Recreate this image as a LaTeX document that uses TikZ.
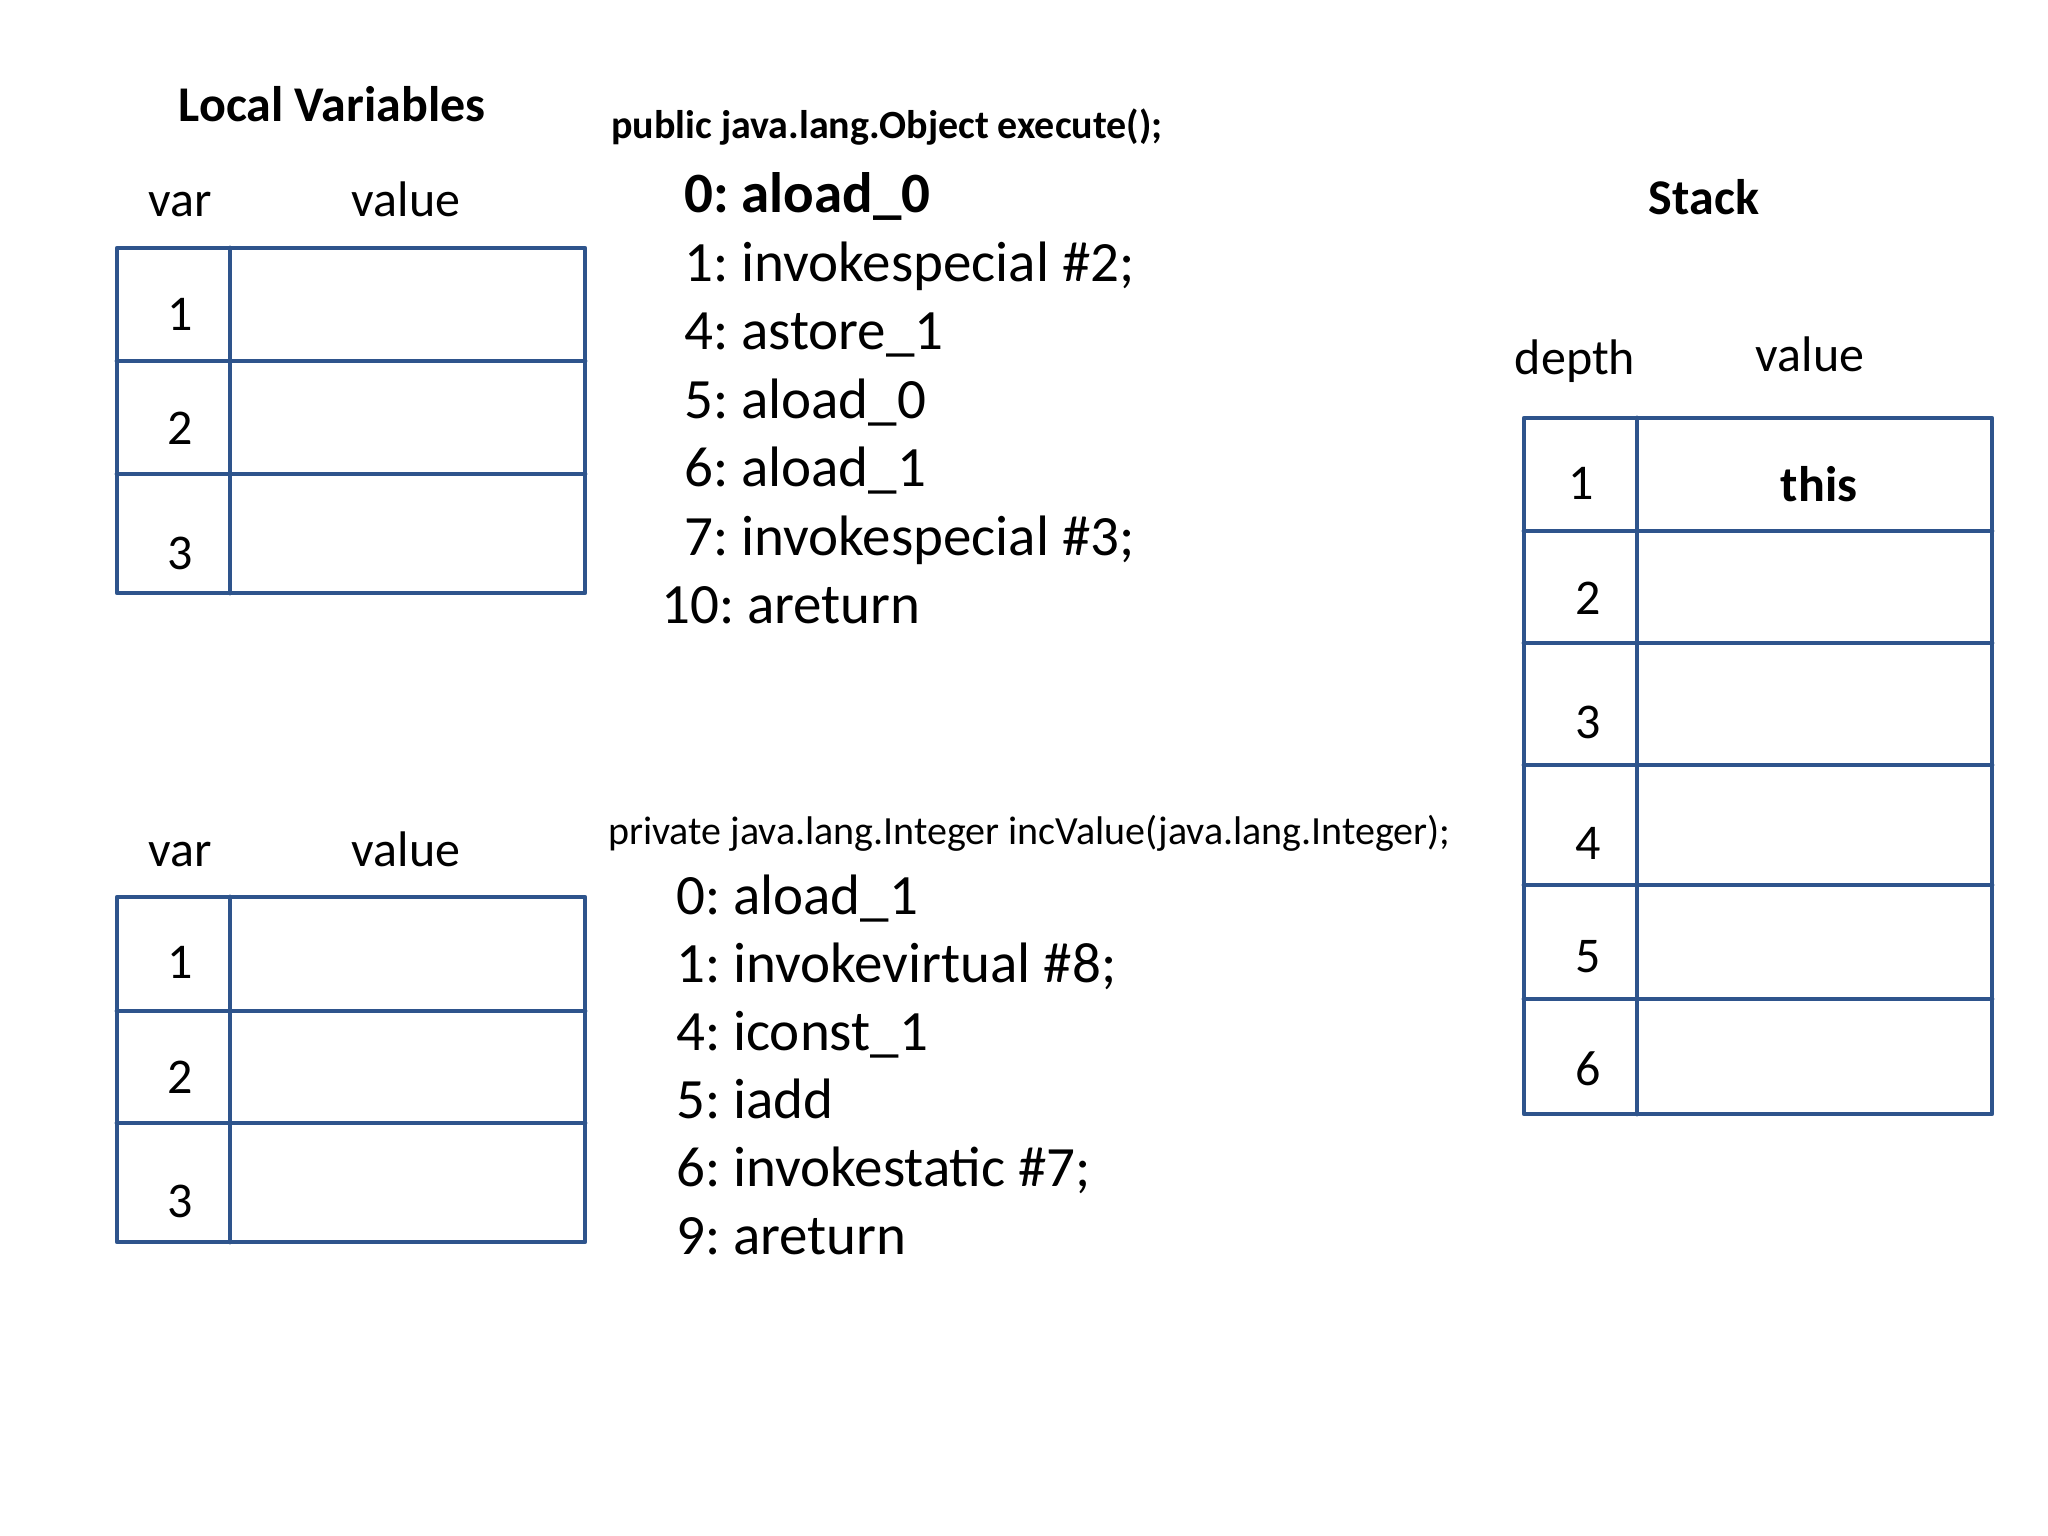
\documentclass[tikz,border=0pt]{standalone}
\usepackage{fontspec}
\setmainfont{Carlito}
\definecolor{gridblue}{HTML}{2E548C}
\frenchspacing
\begin{document}
\begin{tikzpicture}[x=1pt,y=-1pt,
  grid/.style={draw=gridblue,line width=4.8pt,line join=round,line cap=round},
  lbl/.style={inner sep=0pt,anchor=base,font=\fontsize{50}{60}\selectfont},
  blbl/.style={inner sep=0pt,anchor=base,font=\fontsize{50}{60}\selectfont\bfseries},
  code/.style={inner sep=0pt,anchor=base west,font=\fontsize{57}{68}\selectfont},
  hdr/.style={inner sep=0pt,anchor=base west,font=\fontsize{40}{48}\selectfont}]
\useasboundingbox[fill=white] (0,0) rectangle (2048,1536);

% ---------- Local variables (top) ----------
\node[blbl] (lvtitle) at (332,122) {Local Variables};
\node[lbl] (tvar) at (180,216) {var};
\node[lbl] (tval) at (406,216) {value};
\draw[grid] (117,248) rectangle (585,593);
\draw[grid] (230,248) -- (230,593);
\draw[grid] (117,361) -- (585,361);
\draw[grid] (117,474) -- (585,474);
\node[lbl] (t1) at (180,330) {1};
\node[lbl] (t2) at (180,444) {2};
\node[lbl] (t3) at (180,569) {3};

% ---------- Local variables (bottom) ----------
\node[lbl] (bvar) at (180,866) {var};
\node[lbl] (bval) at (406,866) {value};
\draw[grid] (117,897) rectangle (585,1242);
\draw[grid] (230,897) -- (230,1242);
\draw[grid] (117,1011) -- (585,1011);
\draw[grid] (117,1123) -- (585,1123);
\node[lbl] (b1) at (180,978) {1};
\node[lbl] (b2) at (180,1093) {2};
\node[lbl] (b3) at (180,1217) {3};

% ---------- execute() bytecode ----------
\node[hdr,font=\fontsize{40}{48}\selectfont\bfseries] (exhdr) at (611,139) {public java.lang.Object execute();};
\node[code,font=\fontsize{57}{68}\selectfont\bfseries] (e0) at (684,212) {0: aload\_0};
\node[code] (e1) at (684,281) {1: invokespecial \#2;};
\node[code] (e4) at (684,349) {4: astore\_1};
\node[code] (e5) at (684,418) {5: aload\_0};
\node[code] (e6) at (684,486) {6: aload\_1};
\node[code] (e7) at (684,555) {7: invokespecial \#3;};
\node[code] (e10) at (661,623) {10: areturn};

% ---------- incValue() bytecode ----------
\node[hdr] (inchdr) at (608,844) {private java.lang.Integer incValue(java.lang.Integer);};
\node[code] (i0) at (676,914) {0: aload\_1};
\node[code] (i1) at (676,982) {1: invokevirtual \#8;};
\node[code] (i4) at (676,1050) {4: iconst\_1};
\node[code] (i5) at (676,1118) {5: iadd};
\node[code] (i6) at (676,1186) {6: invokestatic \#7;};
\node[code] (i9) at (676,1254) {9: areturn};

% ---------- Stack ----------
\node[blbl] (sttitle) at (1704,214) {Stack};
\node[lbl] (sdepth) at (1575,374) {depth};
\node[lbl] (sval) at (1810,371) {value};
\draw[grid] (1524,418) rectangle (1992,1114);
\draw[grid] (1637,418) -- (1637,1114);
\draw[grid] (1524,531) -- (1992,531);
\draw[grid] (1524,643) -- (1992,643);
\draw[grid] (1524,765) -- (1992,765);
\draw[grid] (1524,885) -- (1992,885);
\draw[grid] (1524,999) -- (1992,999);
\node[lbl] (s1) at (1581,499) {1};
\node[blbl] (sthis) at (1819,501) {this};
\node[lbl] (s2) at (1588,614) {2};
\node[lbl] (s3) at (1588,738) {3};
\node[lbl] (s4) at (1588,859) {4};
\node[lbl] (s5) at (1588,972) {5};
\node[lbl] (s6) at (1588,1085) {6};
\end{tikzpicture}
\end{document}
